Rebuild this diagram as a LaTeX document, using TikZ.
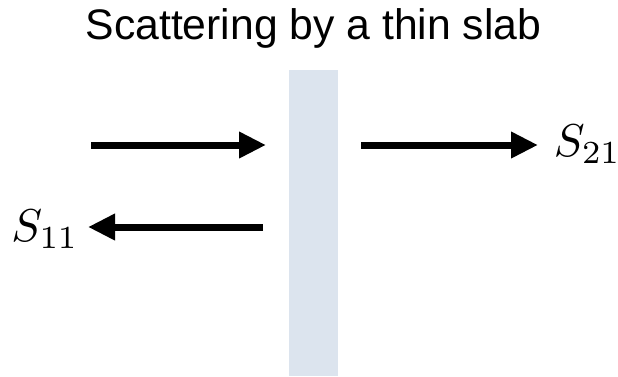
\documentclass[tikz,border=0pt]{standalone}
\usepackage{fontspec}
\setmainfont{Liberation Sans}
\usetikzlibrary{arrows.meta}
\definecolor{slabfill}{HTML}{DCE4EE}
\begin{document}
\begin{tikzpicture}[x=1pt,y=-1pt,
  wave/.style={line width=7pt,-{Triangle[length=27pt,width=25pt]}},
  port/.style={inner sep=0pt,scale=4.6},
  title/.style={inner sep=0pt,font=\fontsize{42.7}{50}\selectfont}]
\useasboundingbox (0,0) rectangle (618,376);
% the slab
\fill[slabfill] (289,70) rectangle (338,376);
\node[title] (ttl) at (313.5,28) {Scattering by a thin slab};
% incident, transmitted and reflected waves
\coordinate (inA) at (91,145);
\coordinate (inB) at (266,145);
\coordinate (trA) at (361,145);
\coordinate (trB) at (538,145);
\coordinate (reA) at (263,227);
\coordinate (reB) at (88,227);
\node[port,anchor=west] (s21) at (553,144) {$S_{21}$};
\node[port,anchor=east] (s11) at (79.5,229) {$S_{11}$};
\draw[wave] (inA) -- (inB);
\draw[wave] (trA) -- (trB);
\draw[wave] (reA) -- (reB);
\end{tikzpicture}
\end{document}
